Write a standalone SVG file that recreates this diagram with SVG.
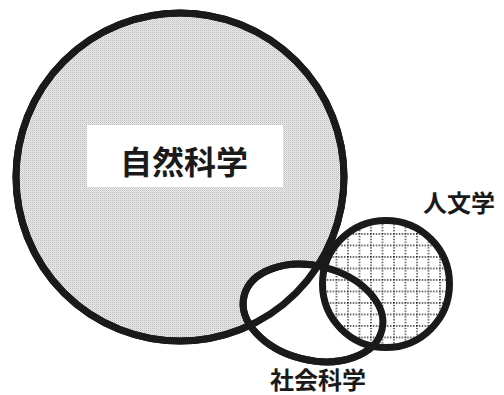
<svg xmlns="http://www.w3.org/2000/svg" xmlns:xlink="http://www.w3.org/1999/xlink" width="504" height="395" viewBox="0 0 504 395">
  <style>
    .outline { fill: none; stroke: #1a1a1a; stroke-width: 7; }
    .label { font-family: "Noto Sans CJK JP", "Noto Sans CJK SC", sans-serif; font-weight: bold; fill: #1a1a1a; text-anchor: middle; }
  </style>
  <defs>
    <pattern id="gray" width="2" height="2" patternUnits="userSpaceOnUse">
      <rect width="2" height="2" fill="#ebebeb"/>
      <rect width="1" height="1" fill="#bcbcbc"/>
      <rect x="1" y="1" width="1" height="1" fill="#d4d4d4"/>
    </pattern>
    <pattern id="grid" x="2" y="3" width="11.5" height="11.5" patternUnits="userSpaceOnUse">
      <rect width="11.5" height="11.5" fill="#ffffff"/>
      <line x1="1" y1="0" x2="1" y2="11.5" stroke="#111" stroke-width="1.4" stroke-dasharray="1.3 1.575"/>
      <line x1="0" y1="1" x2="11.5" y2="1" stroke="#111" stroke-width="1.4" stroke-dasharray="1.3 1.575"/>
    </pattern>
  </defs>

  <g id="natural-science">
    <circle cx="180" cy="177" r="164" style="fill:url(#gray)" class="outline"/>
    <rect x="87" y="125" width="196" height="62" fill="#ffffff"/>
    <text class="label" x="184" y="174" font-size="32">自然科学</text>
  </g>

  <g id="social-science">
    <ellipse cx="313" cy="313" rx="71" ry="47" transform="rotate(14 313 313)" fill="#ffffff" stroke="#1a1a1a" stroke-width="7"/>
    <text class="label" x="318" y="389" font-size="24">社会科学</text>
  </g>

  <g id="humanities">
    <circle cx="386" cy="284" r="63.5" fill="url(#grid)" stroke="#1a1a1a" stroke-width="7"/>
    <ellipse cx="313" cy="313" rx="71" ry="47" transform="rotate(14 313 313)" fill="none" stroke="#1a1a1a" stroke-width="7"/>
    <text class="label" x="459" y="212" font-size="24">人文学</text>
  </g>

  <g id="connectors">
    <circle cx="180" cy="177" r="164" class="outline"/>
  </g>
</svg>
